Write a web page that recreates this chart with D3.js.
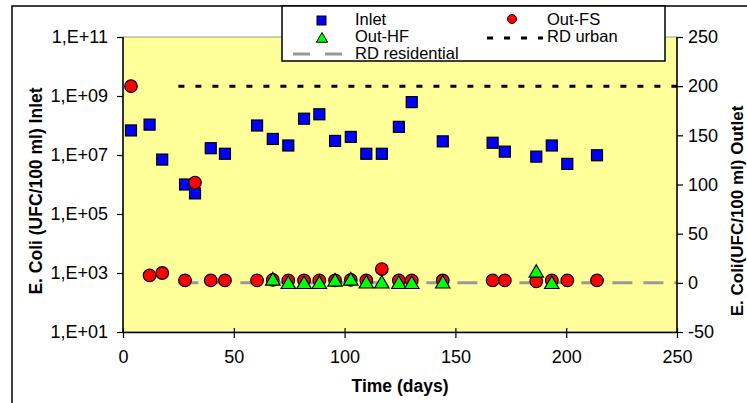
<!DOCTYPE html>
<html>
<head>
<meta charset="utf-8">
<script src="https://cdn.jsdelivr.net/npm/d3@7"></script>
<style>
  body { margin: 0; background: #fff; }
  text { font-family: "Liberation Sans", Arial, sans-serif; }
</style>
</head>
<body>
<div id="chart"></div>
<script>
const width = 747;
const height = 403;

// Data
const days = [3.6, 12, 17.7, 28, 32.5, 39.6, 46, 60.5, 67.6, 74.6, 81.7, 88.6, 95.7,
  102.8, 109.8, 116.8, 124.5, 130.3, 144.3, 166.8, 172.3, 186.5, 193.5, 200.5, 213.9];
const inlet = [6.8e7, 1.07e8, 7e6, 1e6, 5e5, 1.7e7, 1.1e7, 1e8, 3.5e7, 2.1e7, 1.7e8, 2.4e8, 3e7,
  4.1e7, 1.1e7, 1.1e7, 9e7, 6.2e8, 2.9e7, 2.6e7, 1.3e7, 8.8e6, 2.1e7, 5e6, 9.8e6];
const outFS = [200, 7.5, 10, 2.5, 102, 2.5, 2.5, 2.5, 3, 2.5, 2.5, 2.5, 2.5,
  3, 2.5, 14, 2.5, 2.5, 2.5, 2.5, 2.5, 1.5, 2.5, 2.5, 2.5];
const hfDays = [67.6, 74.6, 81.7, 88.6, 95.7, 102.8, 109.8, 116.8, 124.5, 130.3, 144.3, 186.5, 193.5];
const outHF = [3.5, 0, 0, 0, 2.5, 3.5, 0.5, 0.5, 0, 0, 0.5, 11.5, 0];
const rdUrban = { from: 25, to: 250, value: 200 };
const rdResidential = { from: 25, to: 250, value: 0 };
const leftTicks = [1e1, 1e3, 1e5, 1e7, 1e9, 1e11];
const rightTicks = [-50, 0, 50, 100, 150, 200, 250];
const xTicks = [0, 50, 100, 150, 200, 250];

const svg = d3.select("#chart").append("svg")
  .attr("width", width)
  .attr("height", height);

const m = { left: 123, right: 677, top: 37, bottom: 332 };

const x = d3.scaleLinear().domain([0, 250]).range([m.left, m.right]);
const yL = d3.scaleLog().domain([1e1, 1e11]).range([m.bottom, m.top]);
const yR = d3.scaleLinear().domain([-50, 250]).range([m.bottom, m.top]);

// outer frame
svg.append("rect")
  .attr("x", 12).attr("y", 6)
  .attr("width", width).attr("height", height)
  .attr("fill", "#fff").attr("stroke", "#000").attr("stroke-width", 1.5);

// plot background
svg.append("rect")
  .attr("x", m.left).attr("y", m.top)
  .attr("width", m.right - m.left).attr("height", m.bottom - m.top)
  .attr("fill", "#ffff99").attr("stroke", "#999").attr("stroke-width", 1);

// reference lines
svg.append("line")
  .attr("x1", x(rdResidential.from)).attr("x2", x(rdResidential.to))
  .attr("y1", yR(rdResidential.value)).attr("y2", yR(rdResidential.value))
  .attr("stroke", "#999").attr("stroke-width", 3).attr("stroke-dasharray", "20,11");

svg.append("line")
  .attr("x1", x(rdUrban.from)).attr("x2", x(rdUrban.to))
  .attr("y1", yR(rdUrban.value)).attr("y2", yR(rdUrban.value))
  .attr("stroke", "#000").attr("stroke-width", 3).attr("stroke-dasharray", "6,11");

// axes
const fmtExp = d => "1,E+" + String(Math.round(Math.log10(d))).padStart(2, "0");

const gL = svg.append("g")
  .attr("transform", `translate(${m.left},0)`)
  .call(d3.axisLeft(yL).tickValues(leftTicks).tickFormat(fmtExp).tickSize(6).tickPadding(9));

const gR = svg.append("g")
  .attr("transform", `translate(${m.right},0)`)
  .call(d3.axisRight(yR).tickValues(rightTicks).tickFormat(d => String(d)).tickSize(6).tickPadding(5));

const gX = svg.append("g")
  .attr("transform", `translate(0,${m.bottom})`)
  .call(d3.axisBottom(x).tickValues(xTicks).tickSizeInner(6).tickSizeOuter(0).tickPadding(12));

gX.selectAll(".tick line").attr("y1", -4);

[gL, gR, gX].forEach(g => {
  g.attr("font-family", null);
  g.select(".domain").attr("stroke", "#000").attr("stroke-width", 1.5);
  g.selectAll(".tick line").attr("stroke", "#000").attr("stroke-width", 1.2);
  g.selectAll("text").attr("font-size", 18).attr("fill", "#000");
});
// remove outer tick stubs of the vertical axes
gL.select(".domain").attr("d", `M0,${m.top}V${m.bottom}`);
gR.select(".domain").attr("d", `M0,${m.top}V${m.bottom}`);

// axis titles
svg.append("text")
  .attr("x", (m.left + m.right) / 2).attr("y", 392)
  .attr("text-anchor", "middle").attr("font-size", 17.5).attr("font-weight", "bold")
  .text("Time (days)");

svg.append("text")
  .attr("transform", "translate(42,191) rotate(-90)")
  .attr("text-anchor", "middle").attr("font-size", 17.5).attr("font-weight", "bold")
  .text("E. Coli (UFC/100 ml) Inlet");

svg.append("text")
  .attr("transform", "translate(743,211) rotate(-90)")
  .attr("text-anchor", "middle").attr("font-size", 17).attr("font-weight", "bold")
  .text("E. Coli(UFC/100 ml) Outlet");

// markers
const tri = d3.symbol().type(d3.symbolTriangle).size(90);

svg.append("g").selectAll("rect")
  .data(days.map((d, i) => [d, inlet[i]]))
  .join("rect")
  .attr("x", d => x(d[0]) - 5.5).attr("y", d => yL(d[1]) - 5.5)
  .attr("width", 11).attr("height", 11)
  .attr("fill", "#0000ff").attr("stroke", "#000").attr("stroke-width", 1.2);

svg.append("g").selectAll("circle")
  .data(days.map((d, i) => [d, outFS[i]]))
  .join("circle")
  .attr("cx", d => x(d[0])).attr("cy", d => yR(d[1]))
  .attr("r", 6.3)
  .attr("fill", "#ff0000").attr("stroke", "#000").attr("stroke-width", 1.2);

svg.append("g").selectAll("path")
  .data(hfDays.map((d, i) => [d, outHF[i]]))
  .join("path")
  .attr("transform", d => `translate(${x(d[0])},${yR(d[1]) + 1.5})`)
  .attr("d", tri)
  .attr("fill", "#00ff00").attr("stroke", "#000").attr("stroke-width", 1.2);

// legend
const lg = svg.append("g");
lg.append("rect")
  .attr("x", 282).attr("y", 6).attr("width", 383).attr("height", 55)
  .attr("fill", "#fff").attr("stroke", "#000").attr("stroke-width", 1.5);

lg.append("rect").attr("x", 317).attr("y", 16).attr("width", 9).attr("height", 9)
  .attr("fill", "#0000ff").attr("stroke", "#000").attr("stroke-width", 1);
lg.append("path").attr("transform", "translate(322,39)")
  .attr("d", d3.symbol().type(d3.symbolTriangle).size(55))
  .attr("fill", "#00ff00").attr("stroke", "#000").attr("stroke-width", 1);
lg.append("line").attr("x1", 293).attr("x2", 345).attr("y1", 54).attr("y2", 54)
  .attr("stroke", "#999").attr("stroke-width", 3).attr("stroke-dasharray", "17,15");
lg.append("circle").attr("cx", 512).attr("cy", 19).attr("r", 4.5)
  .attr("fill", "#ff0000").attr("stroke", "#000").attr("stroke-width", 1);
lg.append("line").attr("x1", 487).attr("x2", 543).attr("y1", 38).attr("y2", 38)
  .attr("stroke", "#000").attr("stroke-width", 3).attr("stroke-dasharray", "6,11");

const legendText = [
  ["Inlet", 355, 25], ["Out-HF", 355, 42], ["RD residential", 355, 59],
  ["Out-FS", 547, 25], ["RD urban", 547, 42]
];
lg.selectAll("text.lbl").data(legendText).join("text")
  .attr("class", "lbl")
  .attr("x", d => d[1]).attr("y", d => d[2])
  .attr("font-size", 16.5)
  .text(d => d[0]);
</script>
</body>
</html>
